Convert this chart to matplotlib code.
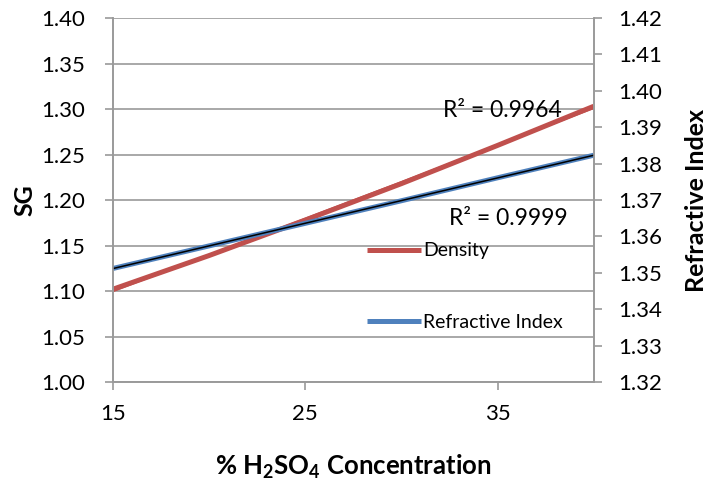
import matplotlib.pyplot as plt
import numpy as np

plt.rcParams['font.family'] = ['Lato', 'DejaVu Sans']
plt.rcParams['mathtext.fontset'] = 'custom'
plt.rcParams['mathtext.rm'] = 'Lato'
plt.rcParams['mathtext.bf'] = 'Lato:bold'

# data
concentration = [15, 20, 25, 30, 35, 40]
density = [1.102, 1.139, 1.178, 1.218, 1.260, 1.303]
refractive_index = [1.3512, 1.3574, 1.3636, 1.3698, 1.3761, 1.3823]
r2_density = '0.9964'
r2_ri = '0.9999'

grey = '#9a9a9a'

fig = plt.figure(figsize=(7.11, 4.87), dpi=100)
ax = fig.add_axes([0.159, 0.2156, 0.676, 0.7474])
ax2 = ax.twinx()

# density on left axis
ln1, = ax.plot(concentration, density, color='#c0504d', linewidth=3.6,
               solid_capstyle='butt', label='Density')
p1 = np.polyfit(concentration, density, 1)
xs = np.array([15, 40])
ax.plot(xs, np.polyval(p1, xs), color='#c0504d', linewidth=1.0)

# refractive index on right axis
ln2, = ax2.plot(concentration, refractive_index, color='#4f81bd', linewidth=3.6,
                solid_capstyle='butt', label='Refractive Index')
p2 = np.polyfit(concentration, refractive_index, 1)
ax2.plot(xs, np.polyval(p2, xs), color='black', linewidth=1.1)

ax.set_xlim(15, 40)
ax.set_ylim(1.00, 1.40)
ax2.set_ylim(1.32, 1.42)
ax.set_xticks([15, 25, 35])
ax.set_yticks(np.arange(1.00, 1.401, 0.05))
ax2.set_yticks(np.arange(1.32, 1.4201, 0.01))
ax.yaxis.set_major_formatter(plt.FormatStrFormatter('%.2f'))
ax2.yaxis.set_major_formatter(plt.FormatStrFormatter('%.2f'))

ax.grid(True, axis='y', color=grey, linewidth=1.2)
ax.set_axisbelow(True)

for a in (ax, ax2):
    for s in a.spines.values():
        s.set_color(grey)
        s.set_linewidth(1.2)
    a.spines['top'].set_visible(False)
    a.tick_params(colors=grey, labelcolor='black', labelsize=16, length=6,
                  width=1.2, direction='out')
ax.tick_params(axis='x', pad=10)
ax.tick_params(axis='y', pad=14)
ax2.tick_params(axis='y', pad=12)

ax.set_ylabel('SG', fontsize=18, fontweight='bold')
ax.yaxis.set_label_coords(-0.16, 0.5)
ax2.set_ylabel('Refractive Index', fontsize=18, fontweight='bold', labelpad=16)
ax.set_xlabel(r'% H$_\mathbf{2}$SO$_\mathbf{4}$ Concentration', fontsize=18.5,
              fontweight='bold', labelpad=20)

ax.text(0.809, 0.747, 'R² = ' + r2_density, transform=ax.transAxes,
        ha='center', va='center', fontsize=16.5)
ax.text(0.823, 0.45, 'R² = ' + r2_ri, transform=ax.transAxes,
        ha='center', va='center', fontsize=16.5)

leg = ax2.legend([ln1, ln2], ['Density', 'Refractive Index'],
                 loc='upper left', bbox_to_anchor=(0.491, 0.538),
                 bbox_transform=fig.transFigure, frameon=False, fontsize=14,
                 handlelength=2.8, handletextpad=0.1, labelspacing=2.8)

fig.savefig('out.png', dpi=100)
